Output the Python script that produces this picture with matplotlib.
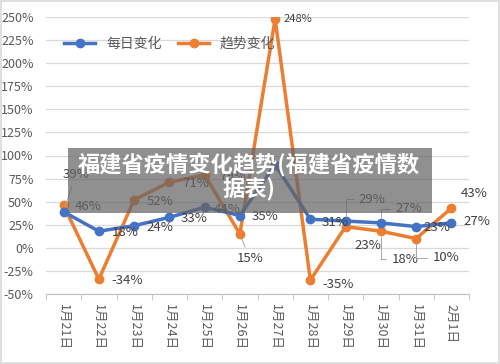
import numpy as np
import matplotlib
matplotlib.use("Agg")
import matplotlib.pyplot as plt
from matplotlib.patches import Rectangle

plt.rcParams['font.family'] = ['Noto Sans CJK SC', 'DejaVu Sans']

dates = ['1月21日', '1月22日', '1月23日', '1月24日', '1月25日', '1月26日',
         '1月27日', '1月28日', '1月29日', '1月30日', '1月31日', '2月1日']
daily = [39, 18, 24, 33, 44, 35, 90, 31, 29, 27, 23, 27]
trend = [46, -34, 52, 71, 79, 15, 248, -35, 23, 18, 10, 43]
daily_labels = ['39%', '18%', '24%', '33%', '44%', '35%', '', '31%', '29%', '27%', '23%', '27%']
trend_labels = ['46%', '-34%', '52%', '71%', '79%', '15%', '248%', '-35%', '23%', '18%', '10%', '43%']
yticks = [-50, -25, 0, 25, 50, 75, 100, 125, 150, 175, 200, 225, 250]

blue = '#4472C4'
orange = '#ED7D31'
txt = '#404040'

fig = plt.figure(figsize=(5, 3.64), dpi=100)
ax = fig.add_axes([46/500, 1-294/364, 423/500, 277/364])

x = np.arange(len(dates))
ax.plot(x, trend, color=orange, lw=2.5, marker='o', ms=6, label='趋势变化', zorder=3)
ax.plot(x, daily, color=blue, lw=2.5, marker='o', ms=6, label='每日变化', zorder=4)

ax.set_xlim(-0.5, len(dates) - 0.5)
ax.set_ylim(-50, 250)
ax.set_yticks(yticks)
ax.set_yticklabels([f'{v}%' for v in yticks], fontsize=9, color='#595959')
ax.yaxis.grid(True, color='#d9d9d9', lw=0.9)
ax.set_axisbelow(True)
ax.tick_params(axis='y', length=0, pad=9)
ax.set_xticks(x)
ax.set_xticklabels(dates, rotation=-90, fontsize=9, color='#595959', va='top', ha='center')
ax.set_xticks(np.arange(-0.5, len(dates), 1), minor=True)
ax.tick_params(axis='x', which='major', length=0, pad=7)
ax.tick_params(axis='x', which='minor', length=4, color='#bfbfbf')
for s in ['top', 'right', 'left']:
    ax.spines[s].set_visible(False)
ax.spines['bottom'].set_color('#bfbfbf')

# label offsets in pixels (label centre minus point)
d_off = [(12, 37), (26, -1), (26, -2), (25, -1), (23, -2), (25, -1), (0, 0),
         (25, -3), (26, 22), (28, 14), (21, -1), (26, 1)]
t_off = [(25, -1), (28, -1), (26, -2), (26, -1), (28, -2), (10, -25),
         (23, 0), (28, -4), (22, -19), (24, -28), (30, -19), (23, 15)]
leader_d = {0: 'arc3', 8: 'angle,angleA=180,angleB=90,rad=0', 9: 'angle,angleA=180,angleB=90,rad=0'}
leader_t = {5: 'arc3', 9: 'angle,angleA=180,angleB=90,rad=0', 10: 'angle,angleA=180,angleB=90,rad=0'}

for i in range(len(dates)):
    if daily_labels[i]:
        ap = None
        if i in leader_d:
            ap = dict(arrowstyle='-', color='#a6a6a6', lw=0.7, shrinkA=2, shrinkB=4,
                      connectionstyle=leader_d[i])
        ax.annotate(daily_labels[i], (x[i], daily[i]), xytext=d_off[i], textcoords='offset pixels',
                    ha='center', va='center', fontsize=9.5, color=txt, arrowprops=ap, zorder=5)
    ap = None
    if i in leader_t:
        ap = dict(arrowstyle='-', color='#a6a6a6', lw=0.7, shrinkA=2, shrinkB=4,
                  connectionstyle=leader_t[i])
    fs = 8 if i == 6 else 9.5
    ax.annotate(trend_labels[i], (x[i], trend[i]), xytext=t_off[i], textcoords='offset pixels',
                ha='center', va='center', fontsize=fs, color=txt, arrowprops=ap, zorder=5)

handles, labels = ax.get_legend_handles_labels()
ax.legend(handles[::-1], labels[::-1], ncol=2, frameon=False, loc='center',
          bbox_to_anchor=(0.293, 0.903), fontsize=10, labelcolor='#595959',
          handlelength=2.2, columnspacing=1.2)

# grey caption overlay
fig.patches.append(Rectangle((68/500, 1-213/364), 364/500, 65/364, transform=fig.transFigure,
                             facecolor='#656565', alpha=0.72, edgecolor='none', zorder=10))
fig.text(249/500, 1-164/364, '福建省疫情变化趋势(福建省疫情数', ha='center', va='center',
         fontsize=16, fontweight='bold', color='white', zorder=11)
fig.text(249/500, 1-190/364, '据表)', ha='center', va='center',
         fontsize=16, fontweight='bold', color='white', zorder=11)

fig.patches.append(Rectangle((0.002, 0.003), 0.996, 0.994, transform=fig.transFigure,
                             facecolor='none', edgecolor='#d9d9d9', lw=1.2, zorder=0))

fig.savefig('out.png', dpi=100)
